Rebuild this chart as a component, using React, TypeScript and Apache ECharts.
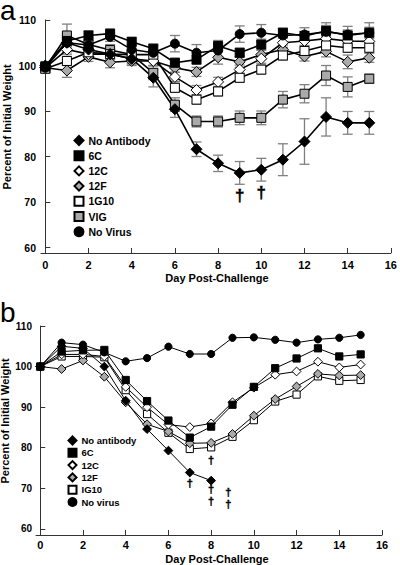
import React, { useEffect, useRef } from "react";
import * as echarts from "echarts";

const FONT = "'Liberation Sans', Arial, Helvetica, sans-serif";

// ---------- Panel a data ----------
const daysA = [0, 1, 2, 3, 4, 5, 6, 7, 8, 9, 10, 11, 12, 13, 14, 15];
const noAntibodyA = [100, 105, 103.5, 102.5, 101.5, 97.3, 90.4, 81.6, 78.5, 76.4, 77.1, 79.3, 83.3, 88.7, 87.4, 87.4];
const noAntibodyAErr = [0.8, 1.5, 1.5, 1.2, 1.2, 2, 1.8, 1.6, 1.8, 2.5, 2.5, 3.5, 5, 4.2, 2.5, 2.5];
const sixCA = [99.8, 105.4, 106.6, 107, 105.2, 103.7, 100.6, 101.3, 104.3, 102.8, 104.6, 107.2, 106.5, 107.6, 106.6, 107.2];
const sixCAErr = [0.8, 1.2, 1, 1, 1, 1, 1, 1, 1.2, 1, 1.2, 1, 1, 1.2, 1.2, 1.2];
const twelveCA = [99.5, 103.5, 102.5, 102.5, 101.5, 101, 97.5, 94.6, 96.4, 99.1, 101.5, 105, 105.4, 105.9, 105.4, 105.3];
const twelveCAErr = [1, 1, 1, 1, 1, 1, 1, 1, 1, 1, 1, 1, 1, 1, 1, 1];
const twelveFA = [99.5, 98.9, 101.9, 100.7, 101, 101, 99.5, 98.6, 101.8, 100.8, 102.4, 103.5, 102, 103.1, 100.8, 101.7];
const twelveFAErr = [1, 1.5, 1, 1.2, 1, 1, 1, 1, 1.5, 1.2, 1, 1, 1, 1.2, 1.5, 1];
const g10A = [99.3, 101, 102.9, 102.5, 102.4, 102.4, 95.1, 92.5, 94.3, 97.3, 99.1, 102.2, 103.2, 104.4, 103.9, 103.9];
const g10AErr = [1, 1, 1, 1, 1, 1, 1, 1, 1, 1, 1, 1, 1, 1, 1, 1];
const vigA = [99.5, 106.6, 104.6, 103.4, 102.4, 98.4, 91.4, 87.7, 87.7, 88.5, 88.5, 92.5, 93.8, 97.8, 95.3, 97.1];
const vigAErr = [1, 2.5, 1.5, 1.2, 1.2, 1.5, 1.5, 1.2, 1.2, 1.5, 1.5, 1.8, 2, 2.2, 2.2, 1];
const noVirusA = [99.5, 105, 104.5, 106.3, 103.5, 102.8, 104.8, 102.8, 103.3, 106.9, 107.2, 106.6, 106.8, 107.4, 106.8, 107.2];
const noVirusAErr = [1, 2, 1, 1, 1, 1.5, 1.8, 1.8, 1.5, 1.8, 1.8, 1.5, 1.5, 2, 1.8, 2.2];
// [day, value, number of stacked daggers]
const daggersA = [[9, 71.5, 1], [10, 72.1, 1]];

// ---------- Panel b data ----------
const daysB = [0, 1, 2, 3, 4, 5, 6, 7, 8, 9, 10, 11, 12, 13, 14, 15];
const daysNoAbB = [0, 1, 2, 3, 4, 5, 6, 7, 8];
const noAntibodyB = [100, 105, 104.5, 100, 91.6, 84.6, 79.3, 73.9, 71.9];
const sixCB = [100, 103.7, 104, 104.1, 96.7, 91.5, 86.7, 82.5, 85.2, 90.6, 95, 99.6, 102, 104.5, 102.5, 103];
const twelveCB = [100, 103, 103, 102.5, 95, 90, 85.7, 85.1, 86, 91.2, 94.8, 98, 98.8, 101.2, 99.8, 100.5];
const twelveFB = [100, 99.4, 101.5, 97.5, 91.2, 85.8, 84, 81.1, 81.2, 83.4, 87.9, 92, 95.1, 98.2, 97.8, 97.9];
const ig10B = [100, 102.5, 102.5, 102.3, 94.2, 88.3, 83.7, 79.7, 80.1, 82.7, 86.8, 91.4, 93.1, 97.6, 96.5, 96.7];
const noVirusB = [100, 105.9, 105.4, 103.5, 101.3, 102.1, 104.9, 103.1, 103.1, 107.1, 107.2, 106.6, 105.9, 106.7, 107.1, 107.8];
const daggersB = [[7, 71.3, 1], [8, 77, 1], [8, 68.4, 2], [8.8, 67.6, 2]];

const xTicks = [0, 2, 4, 6, 8, 10, 12, 14, 16];
const yTicks = [60, 70, 80, 90, 100, 110];

type Sty = { symbol: string; fill: string; size: number };
const STY: Record<string, Sty> = {
  noAb: { symbol: "diamond", fill: "#000", size: 11 },
  sixC: { symbol: "rect", fill: "#000", size: 9 },
  twelveC: { symbol: "diamond", fill: "#fff", size: 11 },
  twelveF: { symbol: "diamond", fill: "#aaa", size: 11 },
  g10: { symbol: "rect", fill: "#fff", size: 9 },
  vig: { symbol: "rect", fill: "#aaa", size: 9 },
  noVirus: { symbol: "circle", fill: "#000", size: 9 },
};

function lineSeries(name: string, days: number[], vals: number[], s: Sty, idx: number, scale: number, lw: number) {
  return {
    type: "line",
    name,
    xAxisIndex: idx,
    yAxisIndex: idx,
    data: days.map((d, i) => [d, vals[i]]),
    symbol: s.symbol,
    symbolSize: s.size * scale,
    showAllSymbol: true,
    itemStyle: { color: s.fill, borderColor: "#000", borderWidth: 1, opacity: 1 },
    lineStyle: { color: "#000", width: lw },
    emphasis: { disabled: true },
    z: 3,
  };
}

function errSeries(days: number[], vals: number[], errs: number[]) {
  return {
    type: "custom",
    xAxisIndex: 0,
    yAxisIndex: 0,
    silent: true,
    z: 1,
    data: days.map((d, i) => [d, vals[i] - errs[i], vals[i] + errs[i]]),
    encode: { x: 0, y: [1, 2] },
    renderItem: (params: any, api: any) => {
      const x = api.value(0);
      const p1 = api.coord([x, api.value(1)]);
      const p2 = api.coord([x, api.value(2)]);
      const w = 5;
      const style = { stroke: "#808080", lineWidth: 1.3 };
      return {
        type: "group",
        children: [
          { type: "line", shape: { x1: p1[0], y1: p1[1], x2: p2[0], y2: p2[1] }, style },
          { type: "line", shape: { x1: p1[0] - w, y1: p1[1], x2: p1[0] + w, y2: p1[1] }, style },
          { type: "line", shape: { x1: p2[0] - w, y1: p2[1], x2: p2[0] + w, y2: p2[1] }, style },
        ],
      };
    },
  };
}

function daggerSeries(pts: number[][], idx: number, size: number, lh: number) {
  return {
    type: "custom",
    xAxisIndex: idx,
    yAxisIndex: idx,
    silent: true,
    z: 4,
    data: pts,
    encode: { x: 0, y: 1 },
    renderItem: (params: any, api: any) => {
      const p = api.coord([api.value(0), api.value(1)]);
      const n = api.value(2);
      const lines: string[] = [];
      for (let i = 0; i < n; i++) lines.push("\u2020");
      return {
        type: "text",
        x: p[0],
        y: p[1],
        style: {
          text: lines.join("\n"),
          fill: "#000",
          stroke: "#000",
          lineWidth: 0.4,
          font: `bold ${size}px ${FONT}`,
          lineHeight: lh,
          align: "center",
          verticalAlign: "middle",
        },
      };
    },
  };
}

function xAxis(idx: number, min: number, margin: number) {
  return {
    type: "value",
    gridIndex: idx,
    min,
    max: 16,
    axisLine: { show: true, lineStyle: { color: "#333", width: 1 } },
    axisTick: { show: true, inside: true, length: 5, customValues: xTicks, lineStyle: { color: "#333" } },
    axisLabel: { customValues: xTicks, color: "#000", fontSize: 11, fontWeight: "bold", fontFamily: FONT, margin },
    splitLine: { show: false },
  };
}

function yAxis(idx: number, min: number, margin: number, fs: number) {
  return {
    type: "value",
    gridIndex: idx,
    min,
    max: 110,
    axisLine: { show: true, lineStyle: { color: "#333", width: 1 } },
    axisTick: { show: true, inside: true, length: 5, customValues: yTicks, lineStyle: { color: "#333" } },
    axisLabel: { customValues: yTicks, color: "#000", fontSize: fs, fontWeight: "bold", fontFamily: FONT, margin },
    splitLine: { show: false },
  };
}

export default function App() {
  const ref = useRef<HTMLDivElement>(null);
  useEffect(() => {
    document.body.style.margin = "0";
    if (!ref.current) return;
    const chart = echarts.init(ref.current, undefined, { renderer: "svg" });

    const seriesA: any[] = [
      errSeries(daysA, vigA, vigAErr),
      errSeries(daysA, twelveFA, twelveFAErr),
      errSeries(daysA, twelveCA, twelveCAErr),
      errSeries(daysA, g10A, g10AErr),
      errSeries(daysA, sixCA, sixCAErr),
      errSeries(daysA, noVirusA, noVirusAErr),
      errSeries(daysA, noAntibodyA, noAntibodyAErr),
      lineSeries("VIG", daysA, vigA, STY.vig, 0, 1, 1.6),
      lineSeries("12F", daysA, twelveFA, STY.twelveF, 0, 1, 1.6),
      lineSeries("12C", daysA, twelveCA, STY.twelveC, 0, 1, 1.6),
      lineSeries("1G10", daysA, g10A, STY.g10, 0, 1, 1.6),
      lineSeries("6C", daysA, sixCA, STY.sixC, 0, 1, 1.6),
      lineSeries("No Virus", daysA, noVirusA, STY.noVirus, 0, 1, 1.6),
      lineSeries("No Antibody", daysA, noAntibodyA, STY.noAb, 0, 1, 1.6),
      daggerSeries(daggersA, 0, 17, 17),
    ];
    const seriesB: any[] = [
      lineSeries("b:IG10", daysB, ig10B, STY.g10, 1, 0.8, 1),
      lineSeries("b:12F", daysB, twelveFB, STY.twelveF, 1, 0.8, 1),
      lineSeries("b:12C", daysB, twelveCB, STY.twelveC, 1, 0.8, 1),
      lineSeries("b:6C", daysB, sixCB, STY.sixC, 1, 0.8, 1),
      lineSeries("b:No virus", daysB, noVirusB, STY.noVirus, 1, 0.8, 1),
      lineSeries("b:No antibody", daysNoAbB, noAntibodyB, STY.noAb, 1, 0.8, 1),
      daggerSeries(daggersB, 1, 11, 12.5),
    ];

    const legendText = { fontSize: 10.5, fontWeight: "bold", fontFamily: FONT, color: "#000" };

    chart.setOption({
      animation: false,
      grid: [
        { left: 41, top: 20, width: 353, height: 233 },
        { left: 36, top: 326, width: 346, height: 209 },
      ],
      xAxis: [xAxis(0, -0.2, 6), xAxis(1, -0.2, 4)],
      yAxis: [yAxis(0, 58.8, 5, 10.5), yAxis(1, 58.5, 4, 10)],
      legend: [
        {
          orient: "vertical",
          left: 73.5,
          top: 135,
          padding: 0,
          itemWidth: 9,
          itemHeight: 9,
          itemGap: 4.2,
          selectedMode: false,
          textStyle: legendText,
          data: [
            { name: "No Antibody", icon: "diamond" },
            { name: "6C", icon: "rect" },
            { name: "12C", icon: "diamond" },
            { name: "12F", icon: "diamond" },
            { name: "1G10", icon: "rect" },
            { name: "VIG", icon: "rect" },
            { name: "No Virus", icon: "circle" },
          ],
        },
        {
          orient: "vertical",
          left: 67.5,
          top: 435.5,
          padding: 0,
          itemWidth: 8,
          itemHeight: 8,
          itemGap: 2.3,
          selectedMode: false,
          textStyle: { ...legendText, fontSize: 9.5 },
          formatter: (n: string) => n.replace(/^b:/, ""),
          data: [
            { name: "b:No antibody", icon: "diamond" },
            { name: "b:6C", icon: "rect" },
            { name: "b:12C", icon: "diamond" },
            { name: "b:12F", icon: "diamond" },
            { name: "b:IG10", icon: "rect" },
            { name: "b:No virus", icon: "circle" },
          ],
        },
      ],
      graphic: [
        { type: "text", x: 0, y: 10, style: { text: "a", font: `28px ${FONT}`, lineHeight: 18, fill: "#000", verticalAlign: "middle", align: "left" } },
        { type: "text", x: 0, y: 312, style: { text: "b", font: `28px ${FONT}`, fill: "#000", verticalAlign: "middle", align: "left" } },
        {
          type: "text", x: 7, y: 127, rotation: Math.PI / 2,
          style: { text: "Percent of Initial Weight", font: `bold 11px ${FONT}`, fill: "#000", align: "center", verticalAlign: "middle" },
        },
        {
          type: "text", x: 5, y: 421, rotation: Math.PI / 2,
          style: { text: "Percent of Initial Weight", font: `bold 11px ${FONT}`, fill: "#000", align: "center", verticalAlign: "middle" },
        },
        {
          type: "text", x: 217, y: 278,
          style: { text: "Day Post-Challenge", font: `bold 11px ${FONT}`, fill: "#000", align: "center", verticalAlign: "middle" },
        },
        {
          type: "text", x: 217, y: 559,
          style: { text: "Day Post-Challenge", font: `bold 11px ${FONT}`, fill: "#000", align: "center", verticalAlign: "middle" },
        },
      ],
      series: [...seriesA, ...seriesB],
    });
    return () => chart.dispose();
  }, []);
  return <div ref={ref} style={{ width: 400, height: 565 }} />;
}
